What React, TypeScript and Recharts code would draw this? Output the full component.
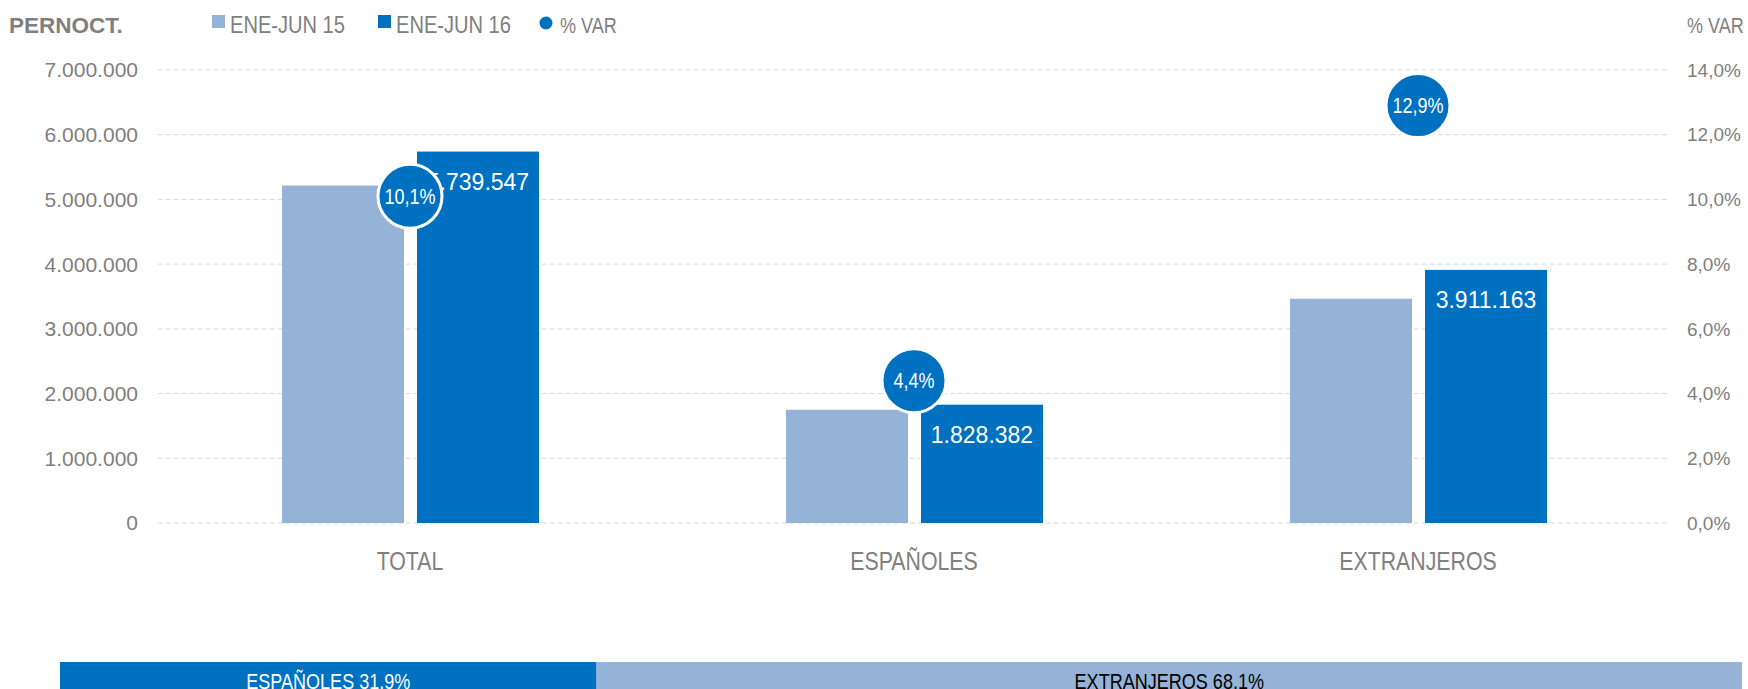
import React from 'react';
import {
  ComposedChart,
  BarChart,
  Bar,
  Line,
  XAxis,
  YAxis,
  CartesianGrid,
  LabelList,
} from 'recharts';

const categories = ['TOTAL', 'ESPAÑOLES', 'EXTRANJEROS'];
const ene15 = [5215000, 1751000, 3464000];
const ene16 = [5739547, 1828382, 3911163];
const varPct = [10.1, 4.4, 12.9];
const seriesNames = ['ENE-JUN 15', 'ENE-JUN 16', '% VAR'];
const leftTicks = [0, 1000000, 2000000, 3000000, 4000000, 5000000, 6000000, 7000000];
const rightTicks = [0, 2, 4, 6, 8, 10, 12, 14];
const shareLabels = ['ESPAÑOLES', 'EXTRANJEROS'];
const shareValues = [31.9, 68.1];

const LIGHT = '#95B3D7';
const DARK = '#0070C0';
const GREY = '#808080';
const FONT = '"Liberation Sans", Arial, sans-serif';
const SQUEEZE = 0.82;

const data = categories.map((c, i) => ({ cat: c, ene15: ene15[i], ene16: ene16[i], pct: varPct[i] }));
const shareData = [{ name: 'share', esp: shareValues[0], ext: shareValues[1] }];

const fmtThousands = (n: number) => String(Math.round(n)).replace(/\B(?=(\d{3})+(?!\d))/g, '.');
const fmtPct = (v: number) => `${v.toFixed(1).replace('.', ',')}%`;

const NarrowText = (p: { x: number; y: number; size: number; fill: string; anchor?: string; weight?: string; children: any }) => (
  <text
    transform={`translate(${p.x},${p.y}) scale(${SQUEEZE},1)`}
    x={0}
    y={0}
    textAnchor={(p.anchor as any) || 'start'}
    dominantBaseline="central"
    fill={p.fill}
    fontSize={p.size}
    fontWeight={p.weight || 'normal'}
    fontFamily={FONT}
  >
    {p.children}
  </text>
);

const DarkBarShape = (props: any) => {
  const { x, y, width, height, payload } = props;
  return (
    <g>
      <rect x={x} y={y} width={width} height={height} fill={DARK} />
      <text
        x={x + width / 2}
        y={y + 30}
        textAnchor="middle"
        dominantBaseline="central"
        fill="#ffffff"
        fontSize={23}
        fontFamily={FONT}
      >
        {fmtThousands(payload.ene16)}
      </text>
    </g>
  );
};

const PctDot = (props: any) => {
  const { cx, cy, payload, index } = props;
  if (cx == null || cy == null) return null;
  return (
    <g key={`dot-${index}`}>
      <circle cx={cx} cy={cy} r={32} fill={DARK} stroke="#ffffff" strokeWidth={3} />
      <NarrowText x={cx} y={cy} size={22} fill="#ffffff" anchor="middle">
        {fmtPct(payload.pct)}
      </NarrowText>
    </g>
  );
};

const CategoryTick = (props: any) => {
  const { x, y, payload } = props;
  return (
    <NarrowText x={x} y={y + 8} size={26} fill={GREY} anchor="middle">
      {payload.value}
    </NarrowText>
  );
};

const shareLabel = (name: string, color: string) => (props: any) => {
  const { viewBox, value } = props;
  const vb = viewBox || {};
  return (
    <NarrowText x={vb.x + vb.width / 2} y={vb.y + vb.height / 2} size={22} fill={color} anchor="middle">
      {`${name} ${fmtPct(Number(value))}`}
    </NarrowText>
  );
};

const legendItems = [
  { name: seriesNames[0], color: LIGHT, kind: 'square', x: 212 },
  { name: seriesNames[1], color: DARK, kind: 'square', x: 378 },
  { name: seriesNames[2], color: DARK, kind: 'circle', x: 540 },
];

const App = () => {
  return (
    <div style={{ position: 'absolute', left: 0, top: 0, width: 1748, height: 689, overflow: 'hidden', background: '#ffffff', fontFamily: FONT }}>
      <svg width={1748} height={50} style={{ position: 'absolute', left: 0, top: 0 }}>
        <text x={9} y={25} dominantBaseline="central" fill="#7F7F7F" fontSize={22.5} fontWeight="bold" fontFamily={FONT}>
          PERNOCT.
        </text>
        {legendItems.map((it, i) => (
          <g key={`leg-${i}`}>
            {it.kind === 'circle' ? (
              <circle cx={it.x + 6} cy={23} r={6.5} fill={it.color} />
            ) : (
              <rect x={it.x} y={15} width={13} height={13} fill={it.color} />
            )}
            <NarrowText x={it.x + (it.kind === 'circle' ? 20 : 18)} y={25} size={it.kind === 'circle' ? 22 : 24.5} fill={GREY}>
              {it.name}
            </NarrowText>
          </g>
        ))}
        <NarrowText x={1687} y={25} size={22} fill={GREY}>
          {seriesNames[2]}
        </NarrowText>
      </svg>
      <div style={{ position: 'absolute', left: 0, top: 0 }}>
        <ComposedChart
          width={1748}
          height={600}
          data={data}
          margin={{ top: 70, right: 0, left: 0, bottom: 0 }}
          barGap={13}
        >
          <CartesianGrid vertical={false} stroke="#D9D9D9" strokeDasharray="5 3" />
          <XAxis
            dataKey="cat"
            axisLine={false}
            tickLine={false}
            height={77}
            tickMargin={24}
            tick={CategoryTick}
          />
          <YAxis
            domain={[0, 7000000]}
            ticks={leftTicks}
            axisLine={false}
            tickLine={false}
            width={158}
            tickMargin={14}
            tickFormatter={(v: number) => fmtThousands(v)}
            tick={{ fill: GREY, fontSize: 21, fontFamily: FONT }}
          />
          <YAxis
            yAxisId="right"
            orientation="right"
            domain={[0, 14]}
            ticks={rightTicks}
            axisLine={false}
            tickLine={false}
            width={78}
            tickMargin={11}
            tickFormatter={(v: number) => fmtPct(v)}
            tick={{ fill: GREY, fontSize: 19, fontFamily: FONT }}
          />
          <Bar dataKey="ene15" name={seriesNames[0]} fill={LIGHT} barSize={122} isAnimationActive={false} />
          <Bar dataKey="ene16" name={seriesNames[1]} fill={DARK} barSize={122} shape={DarkBarShape} isAnimationActive={false} />
          <Line
            yAxisId="right"
            dataKey="pct"
            name={seriesNames[2]}
            stroke="none"
            dot={PctDot}
            activeDot={false}
            isAnimationActive={false}
          />
        </ComposedChart>
      </div>
      <div style={{ position: 'absolute', left: 0, top: 662 }}>
        <BarChart
          width={1748}
          height={38}
          data={shareData}
          layout="vertical"
          margin={{ top: 0, right: 6, left: 60, bottom: 0 }}
          barCategoryGap={0}
        >
          <XAxis type="number" domain={[0, 100]} hide />
          <YAxis type="category" dataKey="name" hide width={0} />
          <Bar dataKey="esp" stackId="s" fill={DARK} isAnimationActive={false}>
            <LabelList dataKey="esp" content={shareLabel(shareLabels[0], '#ffffff')} />
          </Bar>
          <Bar dataKey="ext" stackId="s" fill={LIGHT} isAnimationActive={false}>
            <LabelList dataKey="ext" content={shareLabel(shareLabels[1], '#000000')} />
          </Bar>
        </BarChart>
      </div>
    </div>
  );
};

export default App;
